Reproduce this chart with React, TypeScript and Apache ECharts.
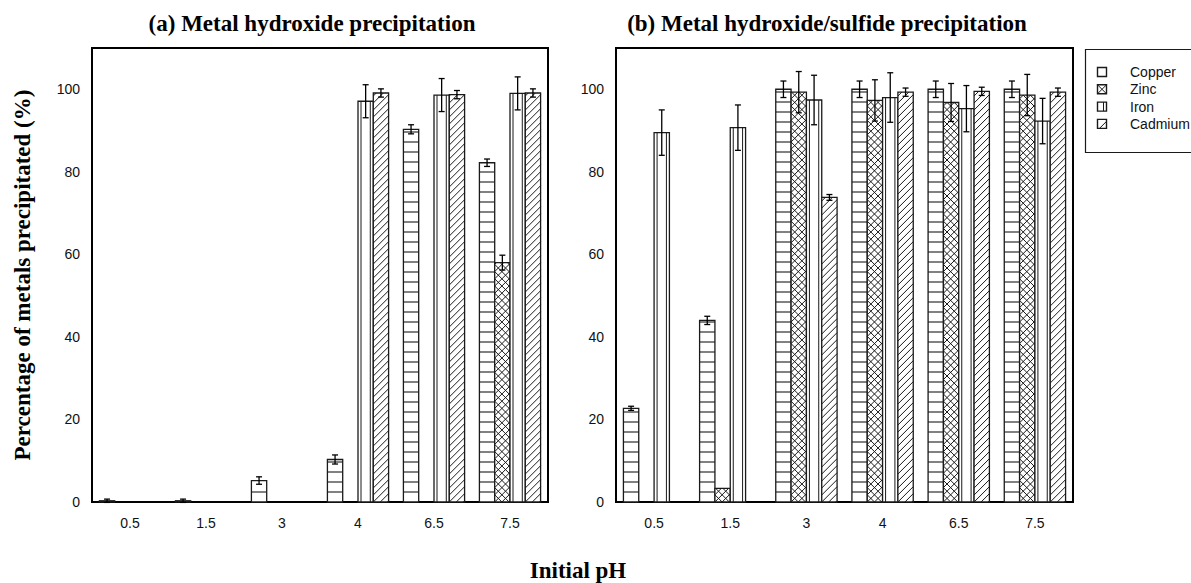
import React, { useEffect, useRef } from "react";
import * as echarts from "echarts";

const categories = ["0.5", "1.5", "3", "4", "6.5", "7.5"];
const metals = ["Copper", "Zinc", "Iron", "Cadmium"];
const yTicks = [0, 20, 40, 60, 80, 100];

// (a) Metal hydroxide precipitation
const aCopper = [0.3, 0.3, 5.2, 10.3, 90.3, 82.2];
const aCopperErr = [0.4, 0.4, 0.9, 1.1, 1.1, 0.9];
const aZinc = [0, 0, 0, 0, 0, 58.0];
const aZincErr = [0, 0, 0, 0, 0, 1.8];
const aIron = [0, 0, 0, 97.1, 98.6, 99.0];
const aIronErr = [0, 0, 0, 4.0, 4.0, 4.0];
const aCadmium = [0, 0, 0, 99.1, 98.7, 99.1];
const aCadmiumErr = [0, 0, 0, 1.0, 1.0, 1.0];

// (b) Metal hydroxide/sulfide precipitation
const bCopper = [22.7, 44.0, 100, 100, 100, 100];
const bCopperErr = [0.5, 1.0, 2.0, 2.0, 2.0, 2.0];
const bZinc = [0, 3.3, 99.3, 97.3, 96.8, 98.6];
const bZincErr = [0, 0, 5.0, 5.0, 4.6, 5.0];
const bIron = [89.5, 90.7, 97.4, 98.0, 95.3, 92.3];
const bIronErr = [5.5, 5.5, 6.0, 6.0, 5.6, 5.5];
const bCadmium = [0, 0, 73.8, 99.3, 99.5, 99.3];
const bCadmiumErr = [0, 0, 0.7, 1.0, 1.0, 1.0];

const titleA = "(a) Metal hydroxide precipitation";
const titleB = "(b) Metal hydroxide/sulfide precipitation";
const yName = "Percentage of metals precipitated (%)";
const xName = "Initial pH";

const patterns = ["hlines", "cross", "vlines", "diag"];
const INK = "#1a1a1a";

function line(x1: number, y1: number, x2: number, y2: number, w = 1, c = INK, z?: number) {
  const el: any = {
    type: "line",
    shape: { x1, y1, x2, y2 },
    style: { stroke: c, lineWidth: w },
  };
  if (z !== undefined) el.z = z;
  return el;
}

// "/" lines: x + y = c ; "\" lines: x - y = c
function diagLines(x0: number, x1: number, yT: number, yB: number, step: number, dir: number, out: any[]) {
  if (dir === 1) {
    const c0 = x0 + yB;
    for (let k = -200; k < 200; k++) {
      const c = c0 + k * step;
      if (c <= x0 + yT || c >= x1 + yB) continue;
      const xa = Math.max(x0, c - yB);
      const xb = Math.min(x1, c - yT);
      if (xb - xa < 0.5) continue;
      out.push(line(xa, c - xa, xb, c - xb, 1));
    }
  } else {
    const c0 = x0 - yB;
    for (let k = -200; k < 200; k++) {
      const c = c0 + k * step;
      if (c <= x0 - yB || c >= x1 - yT) continue;
      const xa = Math.max(x0, c + yT);
      const xb = Math.min(x1, c + yB);
      if (xb - xa < 0.5) continue;
      out.push(line(xa, xa - c, xb, xb - c, 1));
    }
  }
}

function fillPattern(kind: string, x0: number, x1: number, yT: number, yB: number, out: any[]) {
  if (kind === "hlines") {
    for (let y = yB - 10; y > yT + 1.5; y -= 10) out.push(line(x0, y, x1, y, 1.1));
  } else if (kind === "cross") {
    diagLines(x0, x1, yT, yB, 7.2, 1, out);
    diagLines(x0, x1, yT, yB, 7.2, -1, out);
  } else if (kind === "vlines") {
    out.push(line(x0 + 3, yT, x0 + 3, yB, 1));
    out.push(line(x1 - 3, yT, x1 - 3, yB, 1));
  } else if (kind === "diag") {
    diagLines(x0, x1, yT, yB, 7, 1, out);
  }
}

function makeRender(slot: number, kind: string) {
  return (params: any, api: any) => {
    const cat = api.value(0);
    const val = api.value(1);
    const err = api.value(2);
    const children: any[] = [];
    if (!(val > 0)) return { type: "group", children };
    const base = api.coord([cat, 0]);
    const top = api.coord([cat, val]);
    const band = api.size([1, 0])[0];
    const groupW = band * 0.805;
    const bw = groupW / 4;
    const x0 = base[0] - groupW / 2 + slot * bw;
    const x1 = x0 + bw;
    const yT = top[1];
    const yB = base[1];
    children.push({
      type: "rect",
      shape: { x: x0, y: yT, width: bw, height: yB - yT },
      style: { fill: "#fff", stroke: "none" },
    });
    fillPattern(kind, x0, x1, yT, yB, children);
    children.push({
      type: "rect",
      shape: { x: x0, y: yT, width: bw, height: yB - yT },
      style: { fill: "none", stroke: INK, lineWidth: 1.3 },
    });
    if (err > 0) {
      const lo = api.coord([cat, val - err]);
      const hi = api.coord([cat, val + err]);
      const xc = (x0 + x1) / 2;
      children.push(line(xc, lo[1], xc, hi[1], 1.3, "#000"));
      children.push(line(xc - 3, lo[1], xc + 3, lo[1], 1.3, "#000"));
      children.push(line(xc - 3, hi[1], xc + 3, hi[1], 1.3, "#000"));
    }
    return { type: "group", children };
  };
}

function toData(vals: number[], errs: number[]) {
  return vals.map((v, i) => [i, v, errs[i]]);
}

const panelA = [
  toData(aCopper, aCopperErr),
  toData(aZinc, aZincErr),
  toData(aIron, aIronErr),
  toData(aCadmium, aCadmiumErr),
];
const panelB = [
  toData(bCopper, bCopperErr),
  toData(bZinc, bZincErr),
  toData(bIron, bIronErr),
  toData(bCadmium, bCadmiumErr),
];

function legendGraphics() {
  const els: any[] = [];
  els.push({
    type: "rect",
    shape: { x: 1085.5, y: 49.5, width: 140, height: 103 },
    style: { fill: "#fff", stroke: INK, lineWidth: 1.2 },
    z: 10,
  });
  metals.forEach((m, i) => {
    const cy = 72 + i * 17.3;
    const x0 = 1097.5;
    const x1 = 1106.5;
    const yT = cy - 4.5;
    const yB = cy + 4.5;
    if (patterns[i] === "cross") {
      els.push(line(x0, yB, x1, yT, 1, INK, 12));
      els.push(line(x0, yT, x1, yB, 1, INK, 12));
    } else if (patterns[i] === "vlines") {
      els.push(line(x0 + 6, yT, x0 + 6, yB, 1, INK, 12));
    } else if (patterns[i] === "diag") {
      els.push(line(x0 + 2, yB, x1, yT + 2, 1, INK, 12));
    }
    els.push({
      type: "rect",
      z: 13,
      shape: { x: x0, y: yT, width: x1 - x0, height: yB - yT },
      style: { fill: "none", stroke: INK, lineWidth: 1.4 },
    });
    els.push({
      type: "text",
      x: 1130,
      y: cy,
      z: 13,
      style: {
        text: m,
        fill: "#111",
        font: "14px 'Liberation Sans', Arial, sans-serif",
        verticalAlign: "middle",
        align: "left",
      },
    });
  });
  return els;
}

export default function App() {
  const ref = useRef<HTMLDivElement>(null);
  useEffect(() => {
    if (!ref.current) return;
    const chart = echarts.init(ref.current, undefined, { renderer: "svg" });
    const labelStyle = {
      fontSize: 14,
      color: "#111",
      fontFamily: "'Liberation Sans', Arial, sans-serif",
    };
    const xAxisBase = (gi: number) => ({
      type: "category",
      gridIndex: gi,
      data: categories,
      axisLine: { show: false },
      axisTick: { show: false },
      splitLine: { show: false },
      axisLabel: { ...labelStyle, margin: 14 },
    });
    const yAxisBase = (gi: number) => ({
      type: "value",
      gridIndex: gi,
      min: 0,
      max: 110,
      interval: 20,
      axisLine: { show: false },
      axisTick: { show: false },
      splitLine: { show: false },
      axisLabel: {
        ...labelStyle,
        margin: 12,
        showMaxLabel: false,
        formatter: (v: number) => (yTicks.includes(v) ? String(v) : ""),
      },
    });
    const series: any[] = [];
    [panelA, panelB].forEach((panel, pi) => {
      panel.forEach((data, si) => {
        series.push({
          type: "custom",
          name: metals[si],
          xAxisIndex: pi,
          yAxisIndex: pi,
          data,
          encode: { x: 0, y: 1 },
          renderItem: makeRender(si, patterns[si]),
          clip: false,
          silent: true,
        });
      });
    });
    const titleFont = "bold 23px 'Liberation Serif', 'Times New Roman', serif";
    chart.setOption({
      animation: false,
      backgroundColor: "#fff",
      grid: [
        { left: 92, top: 48, width: 456, height: 454, show: true, borderColor: "#000", borderWidth: 2, backgroundColor: "transparent" },
        { left: 616, top: 48, width: 457, height: 454, show: true, borderColor: "#000", borderWidth: 2, backgroundColor: "transparent" },
      ],
      xAxis: [xAxisBase(0), xAxisBase(1)],
      yAxis: [yAxisBase(0), yAxisBase(1)],
      series,
      graphic: [
        {
          type: "text",
          x: 312,
          y: 23.5,
          style: { text: titleA, font: titleFont, fill: "#000", align: "center", verticalAlign: "middle" },
        },
        {
          type: "text",
          x: 827,
          y: 23.5,
          style: { text: titleB, font: titleFont, fill: "#000", align: "center", verticalAlign: "middle" },
        },
        {
          type: "text",
          x: 22,
          y: 275,
          rotation: Math.PI / 2,
          style: { text: yName, font: titleFont, fill: "#000", align: "center", verticalAlign: "middle" },
        },
        {
          type: "text",
          x: 578,
          y: 570,
          style: { text: xName, font: titleFont, fill: "#000", align: "center", verticalAlign: "middle" },
        },
        ...legendGraphics(),
      ],
    });
    return () => chart.dispose();
  }, []);
  return (
    <div
      ref={ref}
      style={{ position: "fixed", left: 0, top: 0, width: 1191, height: 583, background: "#fff" }}
    />
  );
}
